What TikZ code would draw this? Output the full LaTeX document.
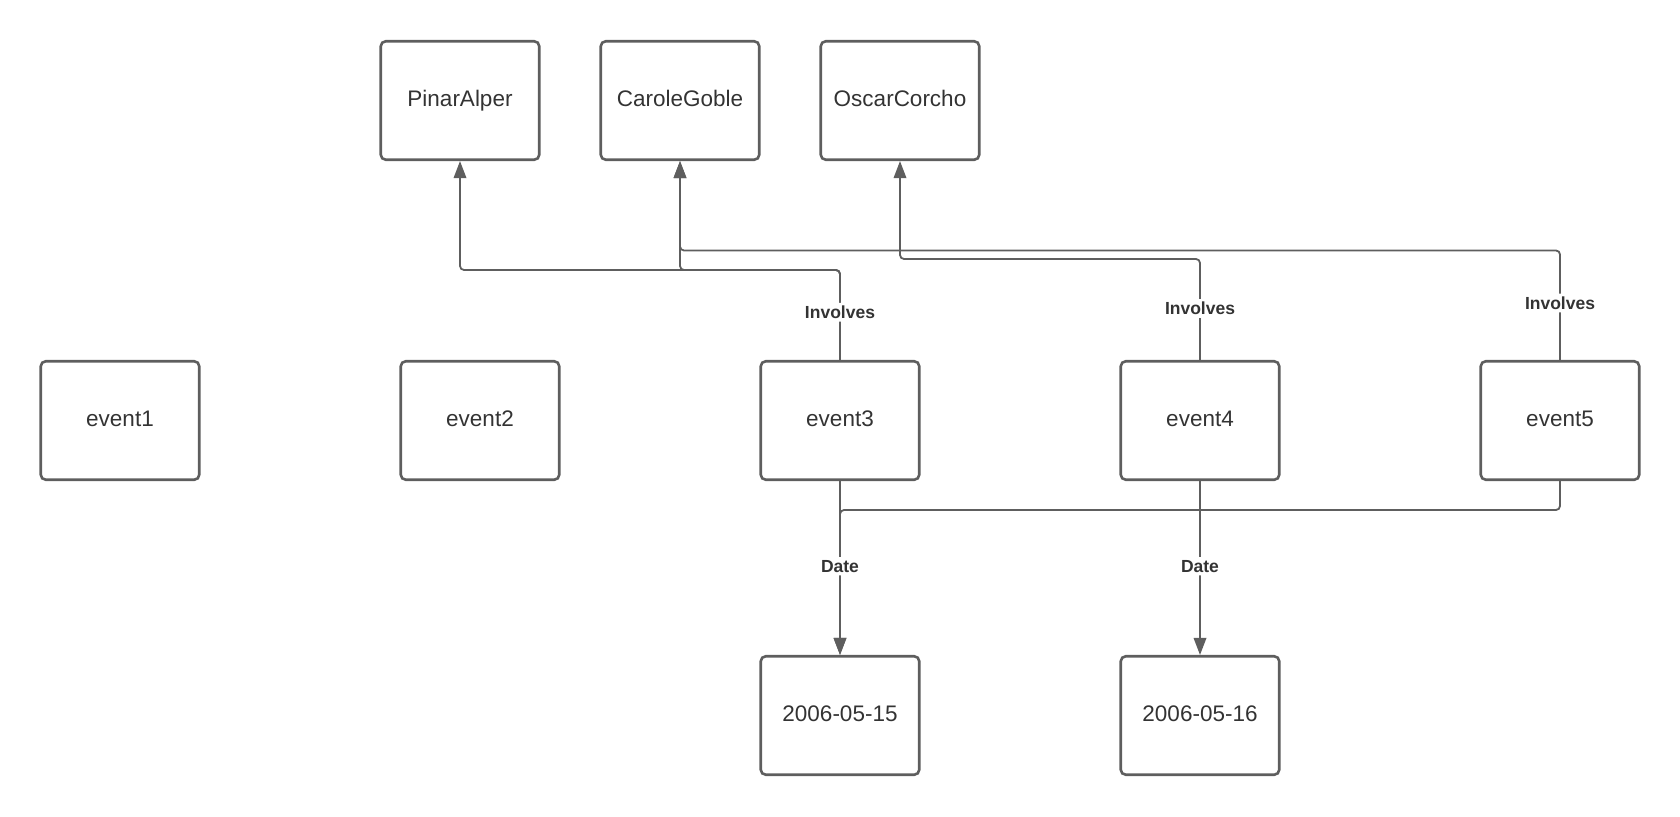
\documentclass[tikz,border=0pt]{standalone}
\usepackage{fontspec}
\setmainfont{Liberation Sans}
\usetikzlibrary{arrows.meta}
\definecolor{edge}{HTML}{5E5E5E}
\definecolor{ink}{HTML}{333333}
\tikzset{
  box/.style={draw=edge, line width=2.6pt, rounded corners=5pt, minimum width=158.5pt,
    minimum height=118.5pt, inner sep=0pt, text=ink, text height=16pt, text depth=4.7pt,
    font=\fontsize{22.5}{25}\selectfont},
  conn/.style={draw=edge, line width=1.8pt, rounded corners=4pt},
  tip/.style={-{Triangle[length=17pt,width=12.5pt]}},
  lbl/.style={fill=white, text=ink, inner sep=3pt, font=\bfseries\fontsize{17.5}{19}\selectfont}
}
\begin{document}
\begin{tikzpicture}[x=1pt,y=-1pt]
\useasboundingbox (0,0) rectangle (1680,816);

% people
\node[box] (pa) at (460,100.5) {PinarAlper};
\node[box] (cg) at (680,100.5) {CaroleGoble};
\node[box] (oc) at (900,100.5) {OscarCorcho};

% events
\node[box] (e1) at (120,420.5) {event1};
\node[box] (e2) at (480,420.5) {event2};
\node[box] (e3) at (840,420.5) {event3};
\node[box] (e4) at (1200,420.5) {event4};
\node[box] (e5) at (1560,420.5) {event5};

% dates
\node[box] (d1) at (840,715.5) {2006-05-15};
\node[box] (d2) at (1200,715.5) {2006-05-16};

% bend points
\coordinate (j3) at (840,270);
\coordinate (j4) at (1200,259);
\coordinate (j5) at (1560,250.5);
\coordinate (k5) at (1560,510);

% Involves
\draw[conn,tip] (e3.north) -- (j3) -| (pa.south);
\draw[conn,tip] (e3.north) -- node[lbl, pos=0.53] {Involves} (j3) -| (cg.south);
\draw[conn,tip] (e4.north) -- node[lbl, pos=0.51] {Involves} (j4) -| (oc.south);
\draw[conn,tip] (e5.north) -- node[lbl, pos=0.52] {Involves} (j5) -| (cg.south);

% Date
\draw[conn,tip] (e5.south) -- (k5) -| (d1.north);
\draw[conn,tip] (e3.south) -- node[lbl, pos=0.49] {Date} (d1.north);
\draw[conn,tip] (e4.south) -- node[lbl, pos=0.49] {Date} (d2.north);
\end{tikzpicture}
\end{document}
